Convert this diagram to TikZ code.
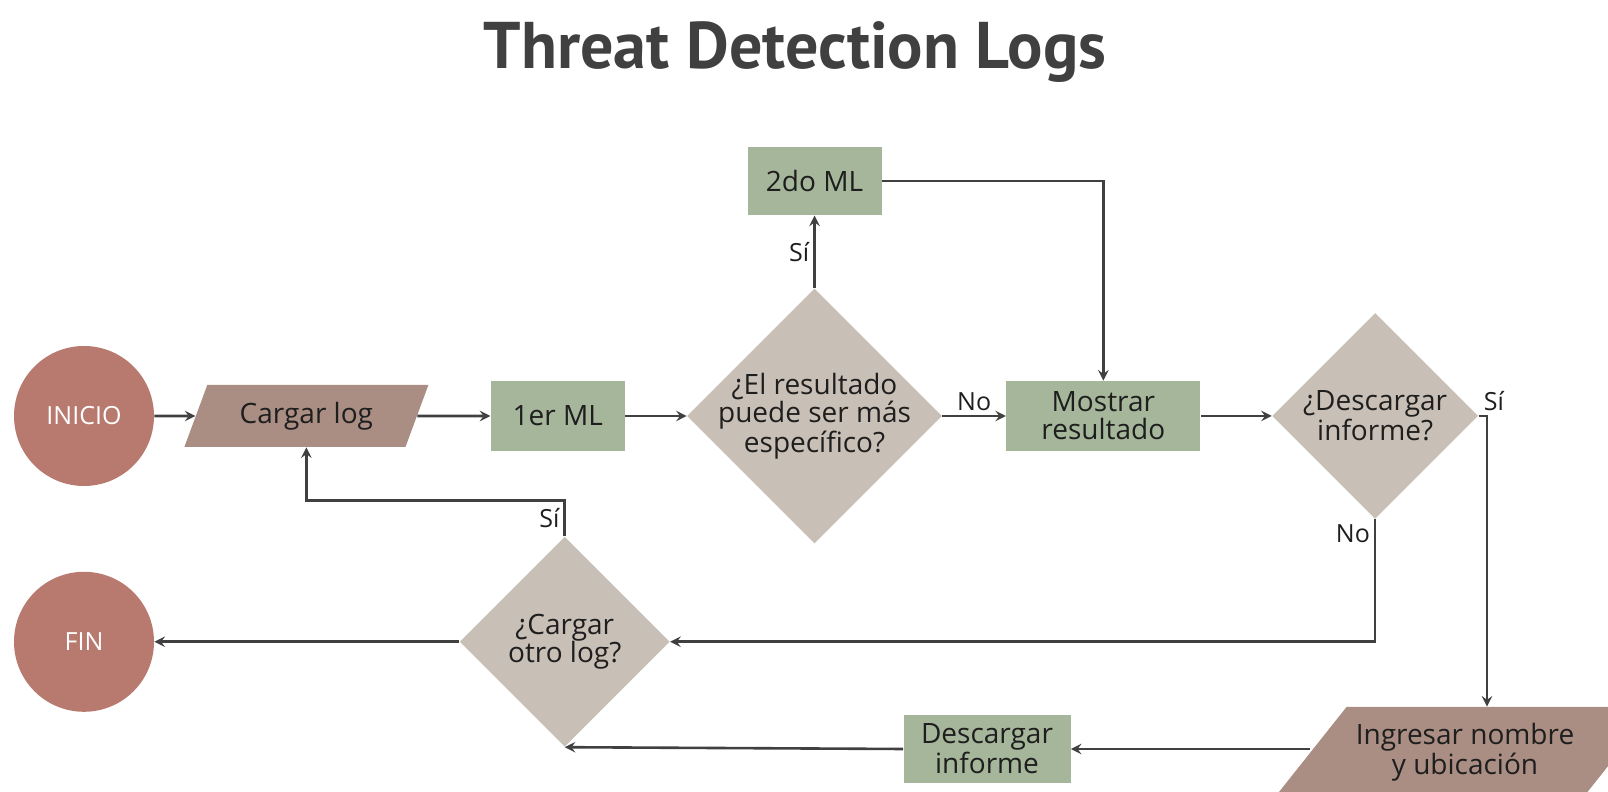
\documentclass[tikz,border=0pt]{standalone}
\usepackage{fontspec}
\setmainfont{Open Sans}
\newfontfamily\titlefont{PT Sans}
\usetikzlibrary{arrows, positioning, shapes.geometric}
\definecolor{startred}{RGB}{184,122,110}
\definecolor{inputbrown}{RGB}{170,142,131}
\definecolor{mlgreen}{RGB}{166,182,154}
\definecolor{questgray}{RGB}{200,192,182}
\definecolor{linegray}{RGB}{64,64,64}
\definecolor{textdark}{RGB}{30,30,30}

\begin{document}
\begin{tikzpicture}
		\tikzstyle{Terminal} = [circle, minimum size=70pt, inner sep=0pt, fill=startred, text=white, font=\fontsize{12.5}{13}\selectfont]
		\tikzstyle{Input} = [trapezium, trapezium stretches body=true, trapezium left angle=61, trapezium right angle=119, minimum height=31pt, minimum width=122pt, fill=inputbrown, text=textdark, align=center, font=\fontsize{14}{14}\selectfont]
		\tikzstyle{Process} = [rectangle, minimum width=67pt, minimum height=35pt, inner sep=2pt, text centered, align=center, fill=mlgreen, text=textdark, font=\fontsize{14}{14}\selectfont]
		\tikzstyle{Decision} = [diamond, aspect=1, inner sep=-12pt, text centered, align=center, fill=questgray, text=textdark, font=\fontsize{14}{14}\selectfont]
		\tikzstyle{Label} = [inner sep=2pt, text=textdark, font=\fontsize{12.5}{13}\selectfont]
		\tikzstyle{arrow} = [line width=1.3pt, draw=linegray, ->, >=stealth]

		\useasboundingbox (0,0) rectangle (804pt,396pt);

		\node (title) at (397.5pt,370pt) [text=linegray, font=\titlefont\bfseries\fontsize{33}{33}\selectfont] {Threat Detection Logs};

		\node (inicio) at (42pt,188pt) [Terminal] {INICIO};
		\node (cargar) [Input, right = 20.5pt of inicio] {Cargar log};
		\node (ml1) [Process, right = 36.5pt of cargar] {1er ML};
		\node (dec1) [Decision, minimum size=127.5pt, right = 30.75pt of ml1] {¿El resultado\\puede ser más\\específico?};
		\node (ml2) [Process, minimum height=34pt, above = 36.25pt of dec1] {2do ML};
		\node (mostrar) [Process, minimum width=97pt, right = 31.75pt of dec1] {Mostrar\\resultado};
		\node (dec2) [Decision, minimum size=103pt, right = 35.5pt of mostrar] {¿Descargar\\informe?};
		\node (ingresar) at (732.5pt,20pt) [Input, trapezium left angle=45, trapezium right angle=135, minimum height=45pt, minimum width=190pt, inner xsep=-4pt] {Ingresar nombre\\y ubicación};
		\node (descargar) at (493.5pt,21.5pt) [Process, minimum width=83.5pt, minimum height=34pt] {Descargar\\informe};
		\node (dec3) [Decision, minimum size=105pt, below = 42.5pt of ml1, xshift=3.5pt] {¿Cargar\\otro log?};
		\node (fin) [Terminal, below = 42.5pt of inicio] {FIN};

		\draw [arrow] (inicio) -- (cargar);
		\draw [arrow] (cargar) -- (ml1);
		\draw [arrow] (ml1) -- (dec1);
		\draw [arrow] (dec1) -- node[Label, above] {No} (mostrar);
		\draw [arrow] (dec1) -- node[Label, left] {Sí} (ml2);
		\draw [arrow] (ml2) -| (mostrar);
		\draw [arrow] (mostrar) -- (dec2);
		\draw [arrow] (dec2.east) -| node[Label, pos=0, above right] {Sí} ([xshift=11pt]ingresar.north);
		\draw [arrow] (dec2.south) |- node[Label, pos=0, below left] {No} (dec3.east);
		\draw [arrow] (ingresar.west |- descargar) -- (descargar);
		\draw [arrow] (descargar.west) -- (dec3.south);
		\draw [arrow] (dec3.north) -- node[Label, left] {Sí} ++(0,18pt) -| (cargar.south);
		\draw [arrow] (dec3) -- (fin);
\end{tikzpicture}
\end{document}
